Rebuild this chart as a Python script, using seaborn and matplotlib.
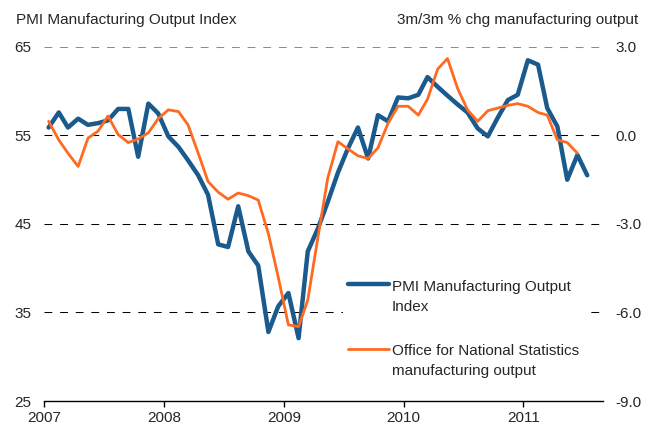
import numpy as np
import pandas as pd
import matplotlib
matplotlib.use("Agg")
import matplotlib.pyplot as plt
import matplotlib.dates as mdates
from matplotlib.legend_handler import HandlerLine2D
import seaborn as sns

# PMI Manufacturing Output Index, monthly Jan 2007 - Jul 2011 (left axis)
pmi_output = [
    55.9, 57.6, 55.9, 56.9, 56.2, 56.4, 56.7, 58.0, 58.0, 52.6, 58.6, 57.5,
    54.9, 53.7, 52.2, 50.5, 48.3, 42.7, 42.4, 47.0, 41.9, 40.3, 32.8, 35.7,
    37.2, 32.1, 41.9, 44.5, 47.5, 50.8, 53.5, 55.9, 52.4, 57.3, 56.6, 59.3,
    59.2, 59.6, 61.6, 60.5, 59.5, 58.5, 57.6, 55.8, 54.9, 57.0, 59.0, 59.6,
    63.5, 63.0, 58.1, 56.0, 50.0, 52.8, 50.5,
]
# ONS manufacturing output, 3m/3m % chg, Jan 2007 - Jun 2011 (right axis)
ons_output = [
    0.48, -0.15, -0.60, -1.05, -0.09, 0.15, 0.66, 0.03, -0.24, -0.12, 0.09, 0.57,
    0.87, 0.81, 0.36, -0.60, -1.56, -1.92, -2.16, -1.95, -2.04, -2.19, -3.33, -4.80,
    -6.42, -6.48, -5.58, -3.45, -1.44, -0.21, -0.45, -0.69, -0.78, -0.42, 0.42, 0.99,
    0.99, 0.69, 1.23, 2.25, 2.61, 1.59, 0.87, 0.48, 0.84, 0.93, 1.02, 1.08,
    0.99, 0.78, 0.69, -0.15, -0.24, -0.60,
]
year_ticks = ["2007", "2008", "2009", "2010", "2011"]
left_ticks = [25, 35, 45, 55, 65]
right_ticks = [-9.0, -6.0, -3.0, 0.0, 3.0]

pmi_label = "PMI Manufacturing Output\nIndex"
ons_label = "Office for National Statistics\nmanufacturing output"

BLUE = "#1B5A8C"
ORANGE = "#FF6A21"
FS = 11
LINESPACING = 1.55


class FirstLineHandler(HandlerLine2D):
    """Put the legend line next to the first text line, not the middle."""

    def __init__(self, shift, **kw):
        super().__init__(**kw)
        self.shift = shift

    def create_artists(self, legend, orig_handle, xdescent, ydescent,
                       width, height, fontsize, trans):
        artists = super().create_artists(legend, orig_handle, xdescent, ydescent,
                                         width, height, fontsize, trans)
        for a in artists:
            a.set_ydata(np.asarray(a.get_ydata(), dtype=float) + self.shift)
        return artists


months = pd.date_range("2007-01-01", periods=len(pmi_output), freq="MS") + pd.Timedelta(days=14)
df_pmi = pd.DataFrame({"date": months, "value": pmi_output})
df_ons = pd.DataFrame({"date": months[:len(ons_output)], "value": ons_output})

sns.set_style("white")
plt.rcParams["font.family"] = ["Liberation Sans", "DejaVu Sans"]

fig = plt.figure(figsize=(6.58, 4.33), dpi=100)
ax = fig.add_axes([0.0669, 0.0739, 0.8495, 0.8176])
ax2 = ax.twinx()

sns.lineplot(data=df_pmi, x="date", y="value", ax=ax, color=BLUE, lw=3.2, label=pmi_label, legend=False)
sns.lineplot(data=df_ons, x="date", y="value", ax=ax2, color=ORANGE, lw=2.0, label=ons_label, legend=False)

ax.set_xlim(pd.Timestamp("2007-01-01"), pd.Timestamp("2011-09-01"))
ax.set_ylim(left_ticks[0], left_ticks[-1])
ax2.set_ylim(right_ticks[0], right_ticks[-1])

ax.set_yticks(left_ticks)
ax.set_yticklabels([str(t) for t in left_ticks])
ax2.set_yticks(right_ticks)
ax2.set_yticklabels([f"{t:.1f}" for t in right_ticks])
ax.set_xticks([pd.Timestamp(f"{y}-01-01") for y in year_ticks])
ax.xaxis.set_major_formatter(mdates.DateFormatter("%Y"))

for a in (ax, ax2):
    a.set_xlabel("")
    a.set_ylabel("")
    for s in ("left", "right", "top"):
        a.spines[s].set_visible(False)
ax.spines["bottom"].set_color("black")
ax.spines["bottom"].set_linewidth(1.0)
ax2.spines["bottom"].set_visible(False)

ax.tick_params(axis="x", direction="out", length=4, width=1, color="black",
               labelsize=FS, pad=3, bottom=True)
ax.tick_params(axis="y", length=0, labelsize=FS, pad=9)
ax2.tick_params(axis="y", length=0, labelsize=FS, pad=9)

ax.yaxis.grid(True, color="black", linestyle=(0, (7.5, 7.5)), lw=0.75)
ax.xaxis.grid(False)
ax2.grid(False)
ax.yaxis.get_gridlines()[-1].set_color("#8C8C8C")
ax.yaxis.get_gridlines()[0].set_visible(False)

fig.text(0.024, 0.953, "PMI Manufacturing Output Index", fontsize=FS, va="center", ha="left")
fig.text(0.970, 0.953, "3m/3m % chg manufacturing output", fontsize=FS, va="center", ha="right")

handles = ax.get_lines()[:1] + ax2.get_lines()[:1]
shift = 0.5 * LINESPACING * FS + 0.9
leg = ax2.legend(handles, [pmi_label, ons_label], loc="upper left",
                 bbox_to_anchor=(0.510, 0.382), bbox_transform=fig.transFigure,
                 frameon=True, framealpha=1.0, fontsize=FS, handlelength=2.7,
                 handletextpad=0.2, labelspacing=2.0, borderpad=0.3,
                 handler_map={h: FirstLineHandler(shift) for h in handles})
for t in leg.get_texts():
    t.set_linespacing(LINESPACING)
leg.get_frame().set_facecolor("white")
leg.get_frame().set_edgecolor("white")
leg.get_frame().set_linewidth(0)
leg.get_frame().set_boxstyle("square", pad=0)

fig.savefig("out.png", dpi=100)
